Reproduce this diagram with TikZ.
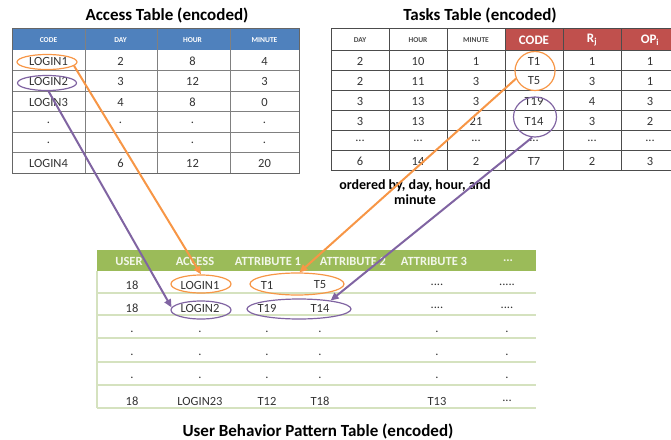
\documentclass[tikz,border=0pt]{standalone}
\usepackage{fontspec}
\setmainfont{Carlito}
\usepackage{tikz}
\usetikzlibrary{shapes, positioning, arrows.meta, calc}
\definecolor{accblue}{HTML}{4F81BD}
\definecolor{taskred}{HTML}{C0504D}
\definecolor{ubpgreen}{HTML}{9BBB59}
\definecolor{ubpline}{HTML}{D5E2BF}
\definecolor{mkorange}{HTML}{F79646}
\definecolor{mkpurple}{HTML}{8064A2}
\newcommand{\tdots}{...}
\newcommand{\tdotsiv}{....}
\newcommand{\tdotsv}{.....}
\tikzset{
  celltext/.style={font=\fontsize{12.5}{12.5}\selectfont, text=black!80, inner sep=0pt},
  tinyhead/.style={font=\fontsize{7.5}{8}\selectfont\bfseries, inner sep=0pt},
  redhead/.style={font=\fontsize{13}{13}\selectfont\bfseries, text=white, inner sep=0pt},
  greenhead/.style={font=\fontsize{12.5}{12.5}\selectfont\bfseries, text=white!88!ubpgreen, inner sep=0pt},
  tabletitle/.style={font=\fontsize{17}{17}\selectfont\bfseries, inner sep=0pt},
  ring/.style={ellipse, draw=#1, line width=1.2pt, inner sep=0pt},
  linkarrow/.style={draw=#1, line width=2pt, -{Triangle[length=8pt,width=7pt]}}
}
\begin{document}
\begin{tikzpicture}[x=1pt,y=-1pt]
\useasboundingbox (0,0) rectangle (671,439);
% Access Table
\node[tabletitle] (acctitle) at (167,15) {Access Table (encoded)};
\fill[accblue] (12,28) rectangle (299,50);
\foreach \y in {70.5,91,111.5,132,152.5} \draw[gray, line width=0.8pt] (12,\y) -- (299,\y);
\foreach \x in {85,157,230} \draw[gray, line width=0.8pt] (\x,28) -- (\x,173);
\draw[gray!80!black, line width=1pt] (12,28) rectangle (299,173);
\foreach \t [count=\c] in {CODE,DAY,HOUR,MINUTE}
  \node[tinyhead, text=white] (acch-\c) at (48.5+72*\c-72,40) {\t};
\foreach \row [count=\r] in {{LOGIN1,2,8,4},{LOGIN2,3,12,3},{LOGIN3,4,8,0},{.,.,.,.},{.,.,.,.},{LOGIN4,6,12,20}}
  \foreach \v [count=\c] in \row
    \node[celltext] (acc-\r-\c) at (48.5+72*\c-72,61+20.5*\r-20.5) {\v};
% Tasks Table
\node[tabletitle] (tsktitle) at (480,15) {Tasks Table (encoded)};
\fill[taskred] (505,28) rectangle (670.5,50);
\foreach \y in {50,70,90,110,130,150} \draw[black!70, line width=1pt] (331,\y) -- (670.5,\y);
\foreach \x in {389,447,505,563,621} \draw[black!70, line width=1pt] (\x,28) -- (\x,170);
\draw[black!70, line width=1pt] (670.5,28) -- (331,28) -- (331,170) -- (670.5,170);
\foreach \t [count=\c] in {DAY,HOUR,MINUTE}
  \node[tinyhead, text=black!70] (tskh-\c) at (360+58*\c-58,40) {\t};
\node[redhead] (tskh-4) at (534,40) {CODE};
\node[redhead] (tskh-5) at (592,40) {R\textsubscript{j}};
\node[redhead] (tskh-6) at (650,40) {OP\textsubscript{i}};
\foreach \row [count=\r] in {{2,10,1,T1,1,1},{2,11,3,T5,3,1},{3,13,3,T19,4,3},{3,13,21,T14,3,2},{\tdots,\tdots,\tdots,\tdots,\tdots,\tdots},{6,14,2,T7,2,3}}
  \foreach \v [count=\c] in \row
    \node[celltext] (tsk-\r-\c) at (360+58*\c-58,61+20*\r-20) {\v};
\node[font=\fontsize{14}{15}\selectfont\bfseries, align=center, inner sep=0pt] (order) at (415,192)
  {ordered by, day, hour, and\\minute};
% User Behavior Pattern Table
\fill[ubpgreen] (97,250) rectangle (536,271);
\foreach \y in {293,315,338,362,385,408} \draw[ubpline, line width=1.2pt] (97,\y) -- (536,\y);
\draw[ubpline, line width=1.2pt] (97,271) -- (97,408);
\foreach \t/\x [count=\c] in {USER/129,ACCESS/195,ATTRIBUTE 1/268,ATTRIBUTE 2/353,ATTRIBUTE 3/434,\tdots/508}
  \node[greenhead] (ubph-\c) at (\x,261) {\t};
\foreach \row/\y [count=\r] in {{18,LOGIN1,T1,T5,\tdotsiv,\tdotsv}/285,{18,LOGIN2,T19,T14,\tdotsiv,\tdotsiv}/308,{.,.,.,.,.,.}/332,{.,.,.,.,.,.}/355,{.,.,.,.,.,.}/378,{18,LOGIN23,T12,T18,T13,\tdots}/401}
  \foreach \v [count=\c] in \row {
    \pgfmathsetmacro{\cx}{{132,200,267,320,437,507}[\c-1]}
    \node[celltext] (ubp-\r-\c) at (\cx,\y) {\v};
  }
\node[tabletitle] (ubptitle) at (318,431) {User Behavior Pattern Table (encoded)};
% 丸印
\node[ring=mkorange, minimum width=60pt, minimum height=15pt] (a1) at (47,62) {};
\node[ring=mkpurple, minimum width=59pt, minimum height=15pt] (a2) at (47,83) {};
\node[ring=mkorange, minimum width=40pt, minimum height=39pt] (t1) at (535,71) {};
\node[ring=mkpurple, minimum width=43pt, minimum height=40pt] (t2) at (535,117) {};
\node[ring=mkorange, minimum width=60pt, minimum height=18pt] (b1) at (201,284) {};
\node[ring=mkorange, minimum width=94pt, minimum height=22pt] (b2) at (297,284) {};
\node[ring=mkpurple, minimum width=60pt, minimum height=18pt] (b3) at (201,310) {};
\node[ring=mkpurple, minimum width=104pt, minimum height=20pt] (b4) at (299,309) {};
% 矢印
\draw[linkarrow=mkorange] (a1.-8) -- (b1.north);
\draw[linkarrow=mkpurple] (a2.-80) -- (b3.175);
\draw[linkarrow=mkorange] (t1.202) -- (b2.78);
\draw[linkarrow=mkpurple] (t2.262) -- (b4.15);
\end{tikzpicture}
\end{document}
